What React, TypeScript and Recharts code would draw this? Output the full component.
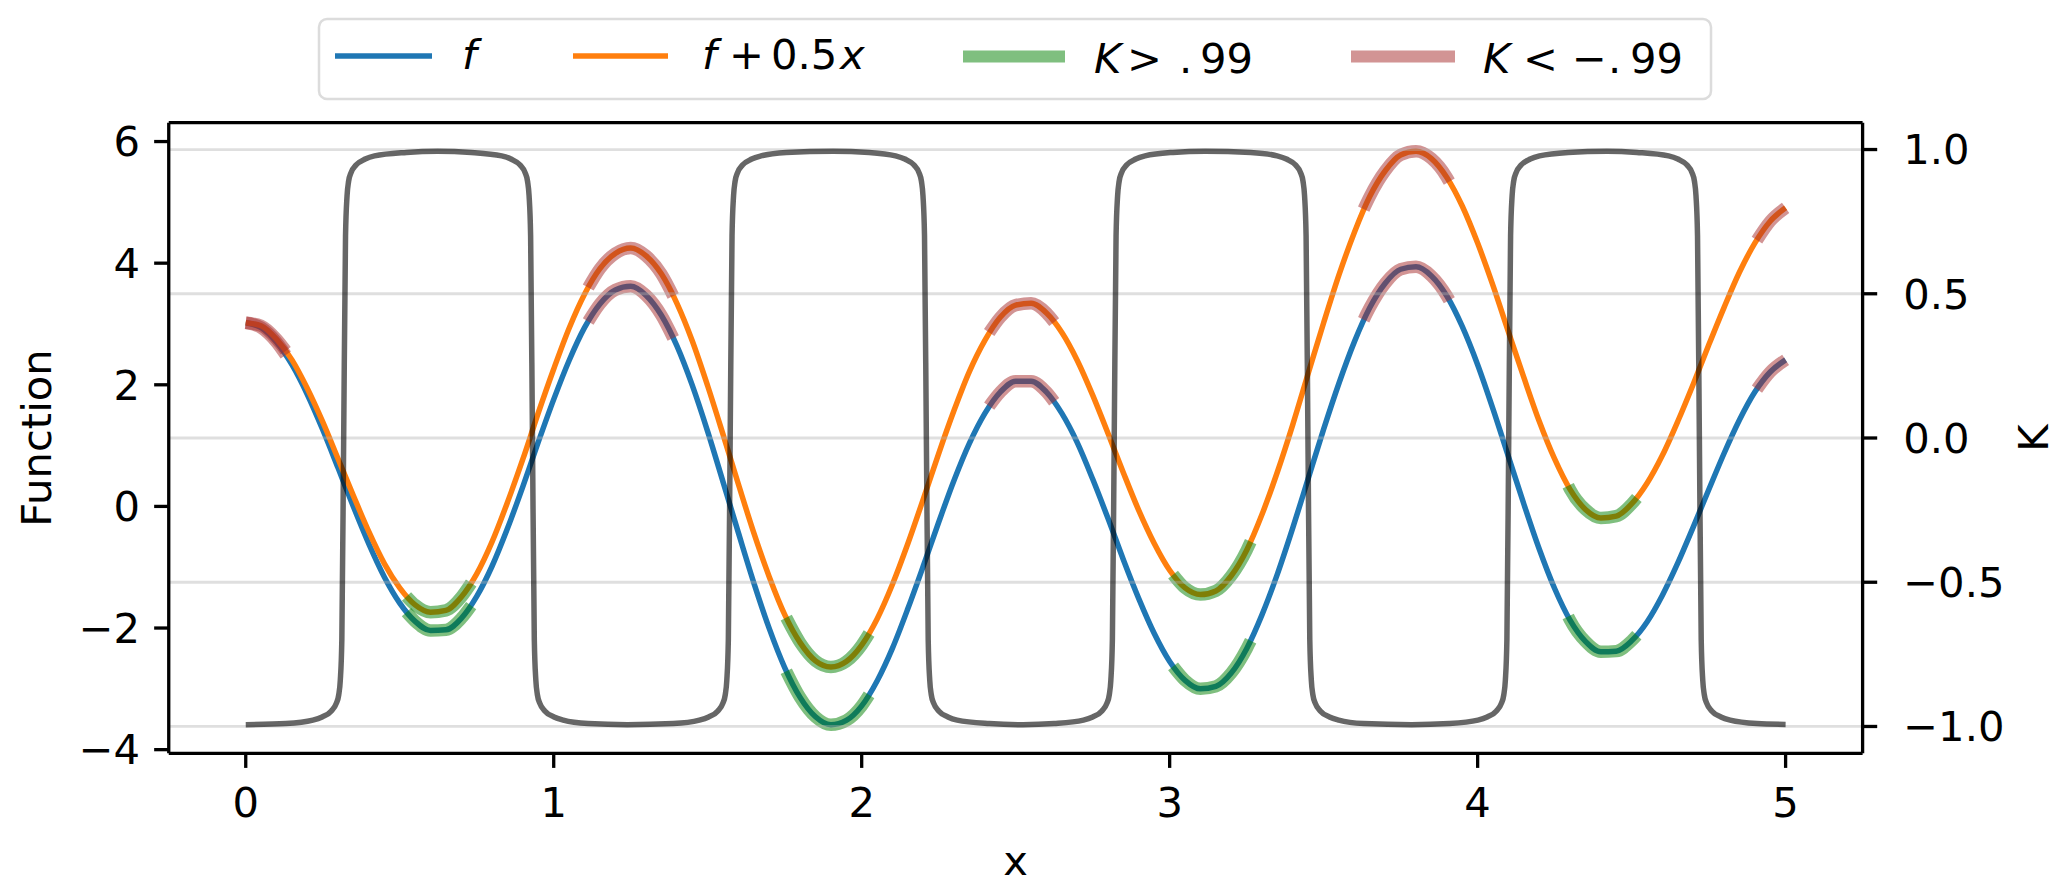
import { LineChart, Line, XAxis, YAxis, ReferenceLine } from "recharts";

// x positions of the sampled curves
const X_GRID = [
  0, 0.05, 0.1, 0.15, 0.2, 0.25, 0.3, 0.35, 0.4, 0.45, 0.5, 0.55, 0.6, 0.65, 0.7, 0.75, 0.8, 0.85, 0.9, 0.95,
  1, 1.05, 1.1, 1.15, 1.2, 1.25, 1.3, 1.35, 1.4, 1.45, 1.5, 1.55, 1.6, 1.65, 1.7, 1.75, 1.8, 1.85, 1.9, 1.95,
  2, 2.05, 2.1, 2.15, 2.2, 2.25, 2.3, 2.35, 2.4, 2.45, 2.5, 2.55, 2.6, 2.65, 2.7, 2.75, 2.8, 2.85, 2.9, 2.95,
  3, 3.05, 3.1, 3.15, 3.2, 3.25, 3.3, 3.35, 3.4, 3.45, 3.5, 3.55, 3.6, 3.65, 3.7, 3.75, 3.8, 3.85, 3.9, 3.95,
  4, 4.05, 4.1, 4.15, 4.2, 4.25, 4.3, 4.35, 4.4, 4.45, 4.5, 4.55, 4.6, 4.65, 4.7, 4.75, 4.8, 4.85, 4.9, 4.95,
  5,
];

// f (blue)
const F_VALUES = [
  3.02, 2.94, 2.7, 2.33, 1.84, 1.26, 0.63, -0.01, -0.62, -1.16,
  -1.59, -1.89, -2.04, -2.03, -1.84, -1.48, -0.98, -0.36, 0.33, 1.06,
  1.76, 2.4, 2.94, 3.33, 3.56, 3.62, 3.47, 3.14, 2.64, 1.99,
  1.23, 0.4, -0.44, -1.26, -2.01, -2.65, -3.14, -3.46, -3.59, -3.52,
  -3.28, -2.87, -2.33, -1.68, -0.98, -0.26, 0.43, 1.04, 1.53, 1.88,
  2.06, 2.06, 1.88, 1.53, 1.05, 0.45, -0.2, -0.88, -1.52, -2.09,
  -2.55, -2.86, -3.0, -2.96, -2.74, -2.34, -1.78, -1.11, -0.35, 0.46,
  1.27, 2.03, 2.71, 3.27, 3.67, 3.9, 3.94, 3.79, 3.46, 2.96,
  2.33, 1.6, 0.82, 0.04, -0.7, -1.35, -1.87, -2.22, -2.39, -2.38,
  -2.21, -1.9, -1.46, -0.93, -0.34, 0.27, 0.87, 1.42, 1.88, 2.21,
  2.41,
];

// f + 0.5x (orange)
const G_VALUES = [
  3.02, 2.97, 2.75, 2.41, 1.94, 1.39, 0.78, 0.17, -0.42, -0.94,
  -1.34, -1.62, -1.74, -1.71, -1.49, -1.11, -0.58, 0.07, 0.78, 1.54,
  2.26, 2.93, 3.49, 3.91, 4.16, 4.25, 4.12, 3.82, 3.34, 2.72,
  1.98, 1.18, 0.36, -0.44, -1.16, -1.78, -2.24, -2.54, -2.64, -2.55,
  -2.28, -1.85, -1.28, -0.61, 0.12, 0.87, 1.58, 2.22, 2.73, 3.11,
  3.31, 3.34, 3.18, 2.86, 2.4, 1.83, 1.2, 0.55, -0.07, -0.61,
  -1.05, -1.34, -1.45, -1.39, -1.14, -0.72, -0.13, 0.57, 1.35, 2.19,
  3.02, 3.81, 4.51, 5.1, 5.52, 5.78, 5.84, 5.72, 5.41, 4.94,
  4.33, 3.63, 2.87, 2.12, 1.4, 0.78, 0.28, -0.05, -0.19, -0.16,
  0.04, 0.38, 0.84, 1.4, 2.01, 2.65, 3.27, 3.85, 4.33, 4.69,
  4.91,
];

// K on the right axis: [x, K]
const K_POINTS = [
  [0, -0.994], [0.13, -0.99],
  [0.218, -0.978], [0.248, -0.967], [0.278, -0.946], [0.294, -0.92], [0.302, -0.89], [0.307, -0.84], [0.312, -0.7],
  [0.318, 0], [0.324, 0.7], [0.329, 0.84], [0.334, 0.89], [0.342, 0.92], [0.358, 0.946], [0.388, 0.967], [0.418, 0.978],
  [0.522, 0.99], [0.623, 0.994], [0.732, 0.99],
  [0.831, 0.978], [0.861, 0.967], [0.891, 0.946], [0.907, 0.92], [0.915, 0.89], [0.92, 0.84], [0.925, 0.7],
  [0.931, 0], [0.937, -0.7], [0.942, -0.84], [0.947, -0.89], [0.955, -0.92], [0.971, -0.946], [1.001, -0.967], [1.031, -0.978],
  [1.112, -0.99], [1.239, -0.994], [1.388, -0.99],
  [1.473, -0.978], [1.503, -0.967], [1.533, -0.946], [1.549, -0.92], [1.557, -0.89], [1.562, -0.84], [1.567, -0.7],
  [1.573, 0], [1.579, 0.7], [1.584, 0.84], [1.589, 0.89], [1.597, 0.92], [1.613, 0.946], [1.643, 0.967], [1.673, 0.978],
  [1.755, 0.99], [1.907, 0.994], [2.024, 0.99],
  [2.11, 0.978], [2.14, 0.967], [2.17, 0.946], [2.186, 0.92], [2.194, 0.89], [2.199, 0.84], [2.204, 0.7],
  [2.21, 0], [2.216, -0.7], [2.221, -0.84], [2.226, -0.89], [2.234, -0.92], [2.25, -0.946], [2.28, -0.967], [2.31, -0.978],
  [2.414, -0.99], [2.524, -0.994], [2.625, -0.99],
  [2.72, -0.978], [2.75, -0.967], [2.78, -0.946], [2.796, -0.92], [2.804, -0.89], [2.809, -0.84], [2.814, -0.7],
  [2.82, 0], [2.826, 0.7], [2.831, 0.84], [2.836, 0.89], [2.844, 0.92], [2.86, 0.946], [2.89, 0.967], [2.92, 0.978],
  [3.011, 0.99], [3.115, 0.994], [3.263, 0.99],
  [3.349, 0.978], [3.379, 0.967], [3.409, 0.946], [3.425, 0.92], [3.433, 0.89], [3.438, 0.84], [3.443, 0.7],
  [3.449, 0], [3.455, -0.7], [3.46, -0.84], [3.465, -0.89], [3.473, -0.92], [3.489, -0.946], [3.519, -0.967], [3.549, -0.978],
  [3.63, -0.99], [3.786, -0.994], [3.908, -0.99],
  [4.001, -0.978], [4.031, -0.967], [4.061, -0.946], [4.077, -0.92], [4.085, -0.89], [4.09, -0.84], [4.095, -0.7],
  [4.101, 0], [4.107, 0.7], [4.112, 0.84], [4.117, 0.89], [4.125, 0.92], [4.141, 0.946], [4.171, 0.967], [4.201, 0.978],
  [4.294, 0.99], [4.42, 0.994], [4.517, 0.99],
  [4.62, 0.978], [4.65, 0.967], [4.68, 0.946], [4.696, 0.92], [4.704, 0.89], [4.709, 0.84], [4.714, 0.7],
  [4.72, 0], [4.726, -0.7], [4.731, -0.84], [4.736, -0.89], [4.744, -0.92], [4.76, -0.946], [4.79, -0.967], [4.82, -0.978],
  [4.907, -0.99], [5, -0.993],
];

// stretches where K < -.99: [x, f, f+0.5x]
const RED_SEGMENTS = [
  [[0, 3.02, 3.02], [0.05, 2.94, 2.97], [0.1, 2.7, 2.75], [0.13, 2.49, 2.56]],
  [[1.112, 3.04, 3.6], [1.15, 3.33, 3.91], [1.2, 3.56, 4.16], [1.25, 3.62, 4.25], [1.3, 3.47, 4.12], [1.35, 3.14, 3.82], [1.388, 2.77, 3.46]],
  [[2.414, 1.65, 2.86], [2.45, 1.88, 3.11], [2.5, 2.06, 3.31], [2.55, 2.06, 3.34], [2.6, 1.88, 3.18], [2.625, 1.72, 3.03]],
  [[3.63, 3.07, 4.89], [3.65, 3.27, 5.1], [3.7, 3.67, 5.52], [3.75, 3.9, 5.78], [3.8, 3.94, 5.84], [3.85, 3.79, 5.72], [3.9, 3.46, 5.41], [3.908, 3.39, 5.34]],
  [[4.907, 1.93, 4.38], [4.95, 2.21, 4.69], [5, 2.41, 4.91]],
];

// stretches where K > .99: [x, f, f+0.5x]
const GREEN_SEGMENTS = [
  [[0.522, -1.74, -1.48], [0.55, -1.89, -1.62], [0.6, -2.04, -1.74], [0.65, -2.03, -1.71], [0.7, -1.84, -1.49], [0.732, -1.63, -1.26]],
  [[1.755, -2.71, -1.83], [1.8, -3.14, -2.24], [1.85, -3.46, -2.54], [1.9, -3.59, -2.64], [1.95, -3.52, -2.55], [2.0, -3.28, -2.28], [2.024, -3.1, -2.09]],
  [[3.011, -2.63, -1.12], [3.05, -2.86, -1.34], [3.1, -3.0, -1.45], [3.15, -2.96, -1.39], [3.2, -2.74, -1.14], [3.25, -2.34, -0.72], [3.263, -2.21, -0.58]],
  [[4.294, -1.81, 0.34], [4.3, -1.87, 0.28], [4.35, -2.22, -0.05], [4.4, -2.39, -0.19], [4.45, -2.38, -0.16], [4.5, -2.21, 0.04], [4.517, -2.12, 0.14]],
];

const X_TICKS = [0, 1, 2, 3, 4, 5];
const LEFT_TICKS = [-4, -2, 0, 2, 4, 6];
const K_TICKS = [-1, -0.5, 0, 0.5, 1];
const X_DOMAIN = [-0.25, 5.25];
const LEFT_DOMAIN = [-4.06, 6.31];
const K_DOMAIN = [-1.093, 1.093];

const W = 2067;
const H = 893;
const FONT = "'DejaVu Sans', sans-serif";
const FS = 41.7;
const MINUS = "\u2212";

const fData = X_GRID.map((x, i) => ({ x, y: F_VALUES[i] }));
const gData = X_GRID.map((x, i) => ({ x, y: G_VALUES[i] }));
const kData = K_POINTS.map(([x, k]) => ({ x, y: k }));

// one array per highlight, a null point between the stretches breaks the path
function segmentData(segs: number[][][], col: number) {
  const out: { x: number; y: number | null }[] = [];
  segs.forEach((seg, i) => {
    if (i > 0) out.push({ x: seg[0][0] - 0.01, y: null });
    seg.forEach((p) => out.push({ x: p[0], y: p[col] }));
  });
  return out;
}

const tickStyle = { fill: "#000", fontSize: FS, fontFamily: FONT };
const axisStroke = { stroke: "#000", strokeWidth: 3.3 };

function Legend() {
  const txt = { fontFamily: FONT, fontSize: FS, fill: "#000" };
  return (
    <svg width={W} height={H} style={{ position: "absolute", left: 0, top: 0, pointerEvents: "none" }}>
      <rect x={319} y={19} width={1392} height={80} rx={8} fill="#fff" fillOpacity={0.8} stroke="#dcdcdc" strokeWidth={2.5} />
      <line x1={335} x2={432} y1={56} y2={56} stroke="#1f77b4" strokeWidth={5.5} />
      <text x={462} y={68.5} style={{ ...txt, fontStyle: "italic" }}>f</text>

      <line x1={573} x2={668} y1={56} y2={56} stroke="#ff7f0e" strokeWidth={5.5} />
      <text y={68.5} style={txt}>
        <tspan x={702} fontStyle="italic">f</tspan>
        <tspan x={729}>+</tspan>
        <tspan x={771}>0.5</tspan>
        <tspan x={840} fontStyle="italic">x</tspan>
      </text>

      <line x1={963} x2={1065} y1={56.5} y2={56.5} stroke="#008000" strokeOpacity={0.5} strokeWidth={12} />
      <text y={73} style={txt}>
        <tspan x={1094} fontStyle="italic">K</tspan>
        <tspan x={1127}>&gt;</tspan>
        <tspan x={1179}>.</tspan>
        <tspan x={1200}>99</tspan>
      </text>

      <line x1={1351} x2={1455} y1={56.5} y2={56.5} stroke="#a52a2a" strokeOpacity={0.5} strokeWidth={12} />
      <text y={73} style={txt}>
        <tspan x={1483} fontStyle="italic">K</tspan>
        <tspan x={1523}>&lt;</tspan>
        <tspan x={1572}>{MINUS}</tspan>
        <tspan x={1608}>.</tspan>
        <tspan x={1630}>99</tspan>
      </text>

      <text x={51} y={438} textAnchor="middle" transform="rotate(-90 51 438)" style={txt}>Function</text>
      <text x={1015.7} y={875} textAnchor="middle" style={txt}>x</text>
      <text x={2048} y={438} textAnchor="middle" transform="rotate(-90 2048 438)" style={txt}>K</text>
    </svg>
  );
}

export default function App() {
  return (
    <div style={{ position: "absolute", left: 0, top: 0, width: W, height: H, background: "#fff" }}>
      <LineChart width={W} height={H} margin={{ top: 122.7, right: 54.4, bottom: 29.7, left: 28.75 }}>
        <XAxis
          dataKey="x"
          type="number"
          domain={X_DOMAIN}
          allowDataOverflow
          ticks={X_TICKS}
          interval={0}
          height={110}
          tick={tickStyle}
          tickSize={14.6}
          tickMargin={19}
          tickLine={axisStroke}
          axisLine={axisStroke}
        />
        <YAxis
          yAxisId="left"
          type="number"
          domain={LEFT_DOMAIN}
          allowDataOverflow
          ticks={LEFT_TICKS}
          interval={0}
          width={140}
          tick={tickStyle}
          tickSize={14.6}
          tickMargin={14}
          tickLine={axisStroke}
          axisLine={axisStroke}
          tickFormatter={(v: number) => String(v).replace("-", MINUS)}
        />
        <YAxis
          yAxisId="k"
          orientation="right"
          type="number"
          domain={K_DOMAIN}
          allowDataOverflow
          ticks={K_TICKS}
          interval={0}
          width={150}
          tick={{ ...tickStyle, dx: 12 }}
          tickSize={14.6}
          tickMargin={14}
          tickLine={axisStroke}
          axisLine={axisStroke}
          tickFormatter={(v: number) => v.toFixed(1).replace("-", MINUS)}
        />

        <Line yAxisId="left" data={fData} dataKey="y" type="monotone" stroke="#1f77b4" strokeWidth={5.5} dot={false} activeDot={false} isAnimationActive={false} />
        <Line yAxisId="left" data={gData} dataKey="y" type="monotone" stroke="#ff7f0e" strokeWidth={5.5} dot={false} activeDot={false} isAnimationActive={false} />

        <Line yAxisId="left" data={segmentData(GREEN_SEGMENTS, 1)} dataKey="y" type="monotone" stroke="#008000" strokeOpacity={0.5} strokeWidth={12.5} strokeLinecap="butt" dot={false} activeDot={false} connectNulls={false} isAnimationActive={false} />
        <Line yAxisId="left" data={segmentData(RED_SEGMENTS, 1)} dataKey="y" type="monotone" stroke="#a52a2a" strokeOpacity={0.5} strokeWidth={12.5} strokeLinecap="butt" dot={false} activeDot={false} connectNulls={false} isAnimationActive={false} />
        <Line yAxisId="left" data={segmentData(GREEN_SEGMENTS, 2)} dataKey="y" type="monotone" stroke="#008000" strokeOpacity={0.5} strokeWidth={12.5} strokeLinecap="butt" dot={false} activeDot={false} connectNulls={false} isAnimationActive={false} />
        <Line yAxisId="left" data={segmentData(RED_SEGMENTS, 2)} dataKey="y" type="monotone" stroke="#a52a2a" strokeOpacity={0.5} strokeWidth={12.5} strokeLinecap="butt" dot={false} activeDot={false} connectNulls={false} isAnimationActive={false} />

        {K_TICKS.map((v) => (
          <ReferenceLine key={v} yAxisId="k" y={v} stroke="#b0b0b0" strokeOpacity={0.4} strokeWidth={2.8} />
        ))}

        <Line yAxisId="k" data={kData} dataKey="y" type="monotone" stroke="#000" strokeOpacity={0.6} strokeWidth={5.5} dot={false} activeDot={false} isAnimationActive={false} />

        {/* top edge of the frame */}
        <ReferenceLine yAxisId="left" y={LEFT_DOMAIN[1]} stroke="#000" strokeWidth={3.3} />
      </LineChart>
      <Legend />
    </div>
  );
}
